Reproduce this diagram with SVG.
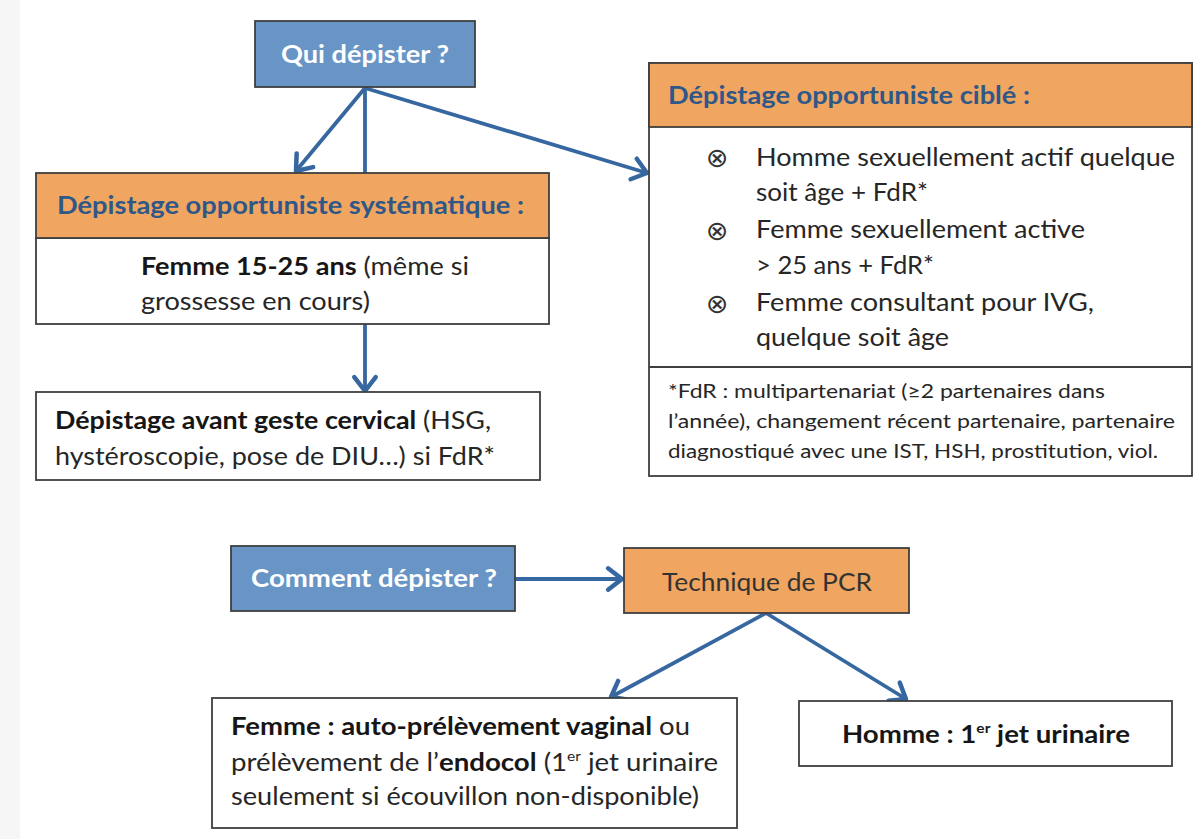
<svg xmlns="http://www.w3.org/2000/svg" width="1194" height="839" viewBox="0 0 1194 839">
  <style>
    .frame { stroke: #3f3f3f; stroke-width: 1.8; }
    .blue { fill: #6895c5; }
    .orange { fill: #f0a660; }
    .plain { fill: #ffffff; }
    .t { font-family: Lato, "Open Sans", "Liberation Sans", sans-serif; font-size: 25px; fill: #262626; }
    .b { font-weight: bold; fill: #161616; }
    .hd { font-weight: bold; fill: #2f5787; }
    .wh { font-weight: bold; fill: #ffffff; }
    .fn { font-size: 18.5px; }
    .sup { font-size: 14px; }
    .bul { font-family: "DejaVu Sans", sans-serif; font-size: 27px; fill: #333333; }
    .link { stroke: #3767a0; stroke-width: 3.8; fill: none; stroke-linecap: round; }
    .tip { marker-end: url(#chev); }
  </style>
  <defs>
    <marker id="chev" markerUnits="userSpaceOnUse" markerWidth="30" markerHeight="30" viewBox="-16 -14 20 28" refX="0" refY="0" orient="auto">
      <path d="M-13,-10 L0,0 L-13,10" fill="none" stroke="#3767a0" stroke-width="4.2" stroke-linecap="round" stroke-linejoin="round"/>
    </marker>
  </defs>

  <rect x="0" y="0" width="1194" height="839" fill="#ffffff"/>
  <rect x="0" y="0" width="20" height="839" fill="#f6f6f6"/>

  <!-- connectors -->
  <g id="connectors">
    <line class="link tip" x1="365" y1="88" x2="296" y2="171"/>
    <line class="link" x1="365" y1="88" x2="365" y2="172"/>
    <line class="link tip" x1="365" y1="88" x2="647" y2="173"/>
    <line class="link tip" x1="365" y1="324" x2="365" y2="391"/>
    <line class="link tip" x1="515" y1="579" x2="622" y2="579"/>
    <line class="link tip" x1="766" y1="613" x2="611" y2="697"/>
    <line class="link tip" x1="766" y1="613" x2="906" y2="699"/>
  </g>

  <!-- Qui dépister ? -->
  <g id="qui">
    <rect class="frame blue" x="255" y="21" width="220" height="66"/>
    <text class="t wh" x="281" y="63" textLength="168" lengthAdjust="spacingAndGlyphs">Qui dépister ?</text>
  </g>

  <!-- Dépistage opportuniste systématique -->
  <g id="systematique">
    <rect class="frame plain" x="36" y="238" width="513" height="86"/>
    <rect class="frame orange" x="36" y="173" width="513" height="65"/>
    <text class="t hd" x="57" y="214" textLength="467" lengthAdjust="spacingAndGlyphs">Dépistage opportuniste systématique :</text>
    <text class="t" x="141" y="275" textLength="328" lengthAdjust="spacingAndGlyphs"><tspan class="b">Femme 15-25 ans</tspan> (même si</text>
    <text class="t" x="141" y="310" textLength="229" lengthAdjust="spacingAndGlyphs">grossesse en cours)</text>
  </g>

  <!-- Dépistage avant geste cervical -->
  <g id="cervical">
    <rect class="frame plain" x="36" y="392" width="504" height="88"/>
    <text class="t" x="55" y="429" textLength="436" lengthAdjust="spacingAndGlyphs"><tspan class="b">Dépistage avant geste cervical</tspan> (HSG,</text>
    <text class="t" x="55" y="465" textLength="440" lengthAdjust="spacingAndGlyphs">hystéroscopie, pose de DIU…) si FdR*</text>
  </g>

  <!-- Dépistage opportuniste ciblé -->
  <g id="cible">
    <rect class="frame plain" x="649" y="63" width="543" height="413"/>
    <rect class="frame orange" x="649" y="63" width="543" height="64"/>
    <line class="frame" x1="649" y1="367" x2="1192" y2="367"/>
    <text class="t hd" x="668" y="104" textLength="362" lengthAdjust="spacingAndGlyphs">Dépistage opportuniste ciblé :</text>
    <text class="bul" x="706" y="167">⊗</text>
    <text class="bul" x="706" y="240">⊗</text>
    <text class="bul" x="706" y="313">⊗</text>
    <text class="t" x="756" y="166" textLength="419" lengthAdjust="spacingAndGlyphs">Homme sexuellement actif quelque</text>
    <text class="t" x="756" y="201" textLength="172" lengthAdjust="spacingAndGlyphs">soit âge + FdR*</text>
    <text class="t" x="756" y="238" textLength="329" lengthAdjust="spacingAndGlyphs">Femme sexuellement active</text>
    <text class="t" x="756" y="274" textLength="178" lengthAdjust="spacingAndGlyphs">&gt; 25 ans + FdR*</text>
    <text class="t" x="756" y="311" textLength="338" lengthAdjust="spacingAndGlyphs">Femme consultant pour IVG,</text>
    <text class="t" x="756" y="346" textLength="193" lengthAdjust="spacingAndGlyphs">quelque soit âge</text>
    <text class="t fn" x="668" y="398" textLength="437" lengthAdjust="spacingAndGlyphs">*FdR : multipartenariat (≥2 partenaires dans</text>
    <text class="t fn" x="668" y="428" textLength="507" lengthAdjust="spacingAndGlyphs">l’année), changement récent partenaire, partenaire</text>
    <text class="t fn" x="668" y="458" textLength="490" lengthAdjust="spacingAndGlyphs">diagnostiqué avec une IST, HSH, prostitution, viol.</text>
  </g>

  <!-- Comment dépister ? -->
  <g id="comment">
    <rect class="frame blue" x="231" y="546" width="284" height="65"/>
    <text class="t wh" x="251" y="587" textLength="246" lengthAdjust="spacingAndGlyphs">Comment dépister ?</text>
  </g>

  <!-- Technique de PCR -->
  <g id="pcr">
    <rect class="frame orange" x="624" y="548" width="285" height="65"/>
    <text class="t" x="662" y="591" textLength="210" lengthAdjust="spacingAndGlyphs" style="fill:#333333">Technique de PCR</text>
  </g>

  <!-- Femme -->
  <g id="femme">
    <rect class="frame plain" x="212" y="698" width="525" height="130"/>
    <text class="t" x="231" y="735" textLength="459" lengthAdjust="spacingAndGlyphs"><tspan class="b">Femme : auto-prélèvement vaginal</tspan> ou</text>
    <text class="t" x="231" y="771" textLength="487" lengthAdjust="spacingAndGlyphs">prélèvement de l’<tspan class="b">endocol</tspan> (1<tspan class="sup" dy="-10">er</tspan><tspan dy="10"> jet urinaire</tspan></text>
    <text class="t" x="231" y="805" textLength="468" lengthAdjust="spacingAndGlyphs">seulement si écouvillon non-disponible)</text>
  </g>

  <!-- Homme -->
  <g id="homme">
    <rect class="frame plain" x="799" y="701" width="373" height="65"/>
    <text class="t b" x="842" y="743" textLength="288" lengthAdjust="spacingAndGlyphs">Homme : 1<tspan class="sup" dy="-10">er</tspan><tspan dy="10"> jet urinaire</tspan></text>
  </g>
</svg>
